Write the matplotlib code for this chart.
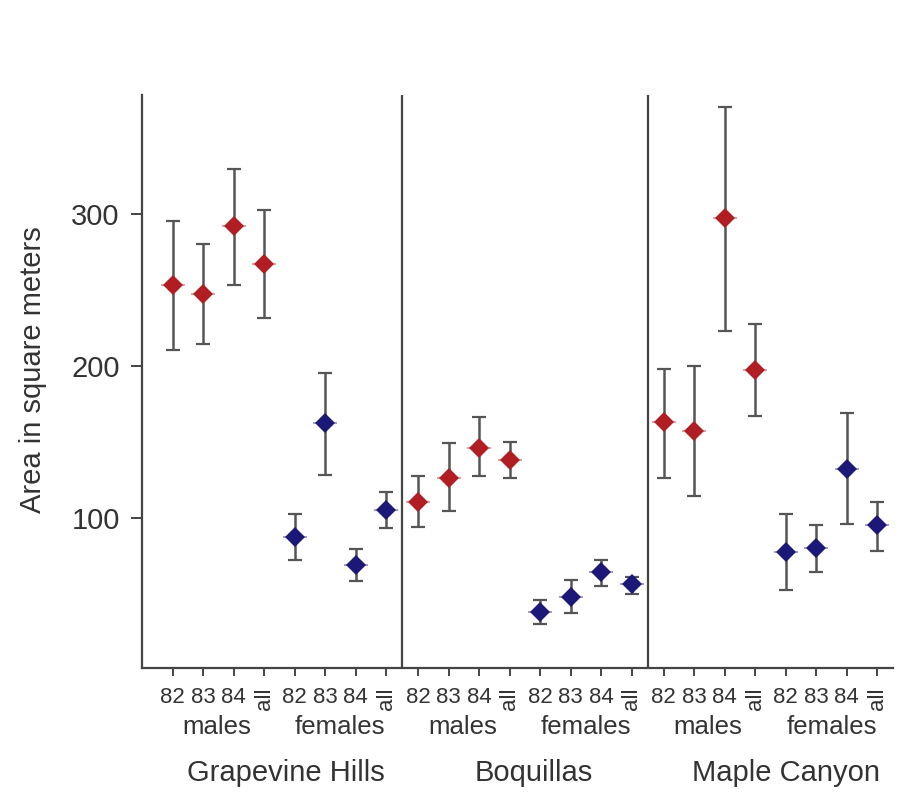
import numpy as np
import matplotlib
matplotlib.use("Agg")
import matplotlib.pyplot as plt

plt.rcParams['font.family'] = ['Liberation Sans', 'DejaVu Sans']

# data
sites = ["Grapevine Hills", "Boquillas", "Maple Canyon"]
years = ["82", "83", "84", "all"]

# Grapevine Hills
gh_males = [253, 247, 292, 267]
gh_males_lo = [210, 214, 253, 231]
gh_males_hi = [295, 280, 329, 302]
gh_females = [87, 162, 69, 105]
gh_females_lo = [72, 128, 58, 93]
gh_females_hi = [102, 195, 79, 117]

# Boquillas
bq_males = [110, 126, 146, 138]
bq_males_lo = [94, 104, 127, 126]
bq_males_hi = [127, 149, 166, 150]
bq_females = [38, 48, 64, 56]
bq_females_lo = [30, 37, 55, 50]
bq_females_hi = [46, 59, 72, 61]

# Maple Canyon
mc_males = [163, 157, 297, 197]
mc_males_lo = [126, 114, 223, 167]
mc_males_hi = [198, 200, 370, 227]
mc_females = [77, 80, 132, 95]
mc_females_lo = [52, 64, 96, 78]
mc_females_hi = [102, 95, 169, 110]

male_color = "#b01e23"
female_color = "#1c1878"
bar_color = "#555555"
text_color = "#333333"

panels = [
    (gh_males, gh_males_lo, gh_males_hi, gh_females, gh_females_lo, gh_females_hi),
    (bq_males, bq_males_lo, bq_males_hi, bq_females, bq_females_lo, bq_females_hi),
    (mc_males, mc_males_lo, mc_males_hi, mc_females, mc_females_lo, mc_females_hi),
]
panel_start = [1.0, 9.05, 17.1]
name_offset = [3.7, 3.8, 4.0]
dividers = [8.52, 16.59]

fig = plt.figure(figsize=(9.18, 7.94), dpi=100)
ax = fig.add_axes([0.1547, 0.1587, 0.8181, 0.7217])


def draw_group(x, mean, lo, hi, color):
    mean = np.array(mean)
    err = [mean - np.array(lo), np.array(hi) - mean]
    ax.errorbar(x, mean, yerr=err, fmt="none", ecolor=bar_color,
                elinewidth=1.8, capsize=4.8, capthick=1.6, zorder=2)
    ax.plot(x, mean, linestyle="none", marker="_", markersize=17,
            markeredgewidth=1.2, color=color, alpha=0.5, zorder=3)
    ax.plot(x, mean, linestyle="none", marker="D", markersize=10.5,
            color=color, markeredgewidth=0, zorder=4)


tick_pos = []
tick_lab = []
for start, (m, mlo, mhi, f, flo, fhi) in zip(panel_start, panels):
    xm = start + np.arange(4)
    xf = start + 4 + np.arange(4)
    draw_group(xm, m, mlo, mhi, male_color)
    draw_group(xf, f, flo, fhi, female_color)
    tick_pos += list(xm) + list(xf)
    tick_lab += years + years

for d in dividers:
    ax.axvline(d, color="#444444", linewidth=1.6, zorder=1)

ax.set_xlim(0, 24.62)
ax.set_ylim(1, 378)
ax.set_yticks([100, 200, 300])
ax.set_xticks(tick_pos)
ax.set_xticklabels(tick_lab)
for lab in ax.get_xticklabels():
    lab.set_fontsize(16)
    lab.set_color(text_color)
    if lab.get_text() == "all":
        lab.set_rotation(90)

ax.tick_params(axis="x", length=6, width=1.4, color="#444444", pad=8)
ax.tick_params(axis="y", length=8, width=1.4, color="#444444", pad=8,
               labelsize=21, labelcolor=text_color)

for side in ["top", "right"]:
    ax.spines[side].set_visible(False)
for side in ["left", "bottom"]:
    ax.spines[side].set_color("#444444")
    ax.spines[side].set_linewidth(1.6)

ax.set_ylabel("Area in square meters", fontsize=21, color=text_color)
ax.yaxis.set_label_coords(-0.127, 0.52)

trans = ax.get_xaxis_transform()
for start, off, name in zip(panel_start, name_offset, sites):
    ax.text(start + 1.45, -0.103, "males", transform=trans, ha="center",
            va="center", fontsize=18.5, color=text_color)
    ax.text(start + 5.5, -0.103, "females", transform=trans, ha="center",
            va="center", fontsize=18.5, color=text_color)
    ax.text(start + off, -0.183, name, transform=trans, ha="center",
            va="center", fontsize=21, color=text_color)

fig.savefig("out.png", dpi=100, facecolor="white")
